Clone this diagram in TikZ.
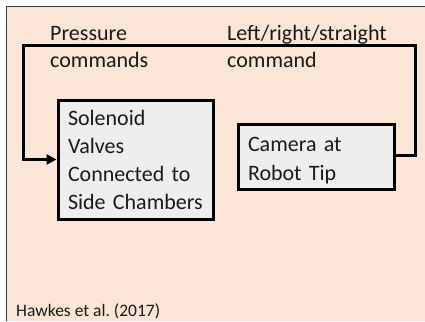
\documentclass[tikz,border=0pt]{standalone}
\usepackage{fontspec}
\setmainfont{Carlito}
\frenchspacing
\usetikzlibrary{arrows.meta}
\definecolor{peach}{HTML}{FBE5D6}
\definecolor{boxgray}{HTML}{EDEEED}
\definecolor{framegray}{HTML}{3A3A3A}
\definecolor{txt}{HTML}{1A1A1A}
\tikzset{
  big/.style={font=\fontsize{22}{28}\selectfont, text=txt},
  blockbox/.style={big, draw=black, line width=3pt, fill=boxgray, align=left, inner xsep=10pt, inner ysep=0pt},
  lbl/.style={font=\fontsize{22}{27}\selectfont, text=txt, align=left, inner sep=0pt, anchor=base west},
  loop/.style={draw=black, line width=3pt},
}
\begin{document}
\begin{tikzpicture}[x=1pt,y=-1pt]
\useasboundingbox (0,0) rectangle (425,321);
\fill[peach] (6,7) rectangle (425,321);
\draw[framegray, line width=1pt] (6,321) -- (6,7) -- (425,7);
\node[blockbox, text width=135pt, minimum height=119pt] (sol) at (135.5,159.5) {Solenoid\\Valves\\Connected to\\Side Chambers};
\node[blockbox, text width=136pt, minimum height=65pt, font=\fontsize{22}{29}\selectfont] (cam) at (316,156.5) {\rule{0pt}{23pt}Camera at\\Robot Tip};
\coordinate (c1) at (415,155);
\coordinate (c2) at (415,46);
\coordinate (c3) at (23.5,46);
\draw[loop, -{Triangle[length=10pt,width=10pt]}] (cam.east |- c1) -- (c1) -- (c2) -- (c3) |- (sol.west);
\node[lbl] (pc) at (50,67) {Pressure\\commands};
\node[lbl] (lr) at (227,67) {Left/right/straight\\command};
\node[font=\fontsize{17.5}{21}\selectfont, text=txt, inner sep=0pt, anchor=base west] (ref) at (16,316) {Hawkes et al. (2017)};
\end{tikzpicture}
\end{document}
